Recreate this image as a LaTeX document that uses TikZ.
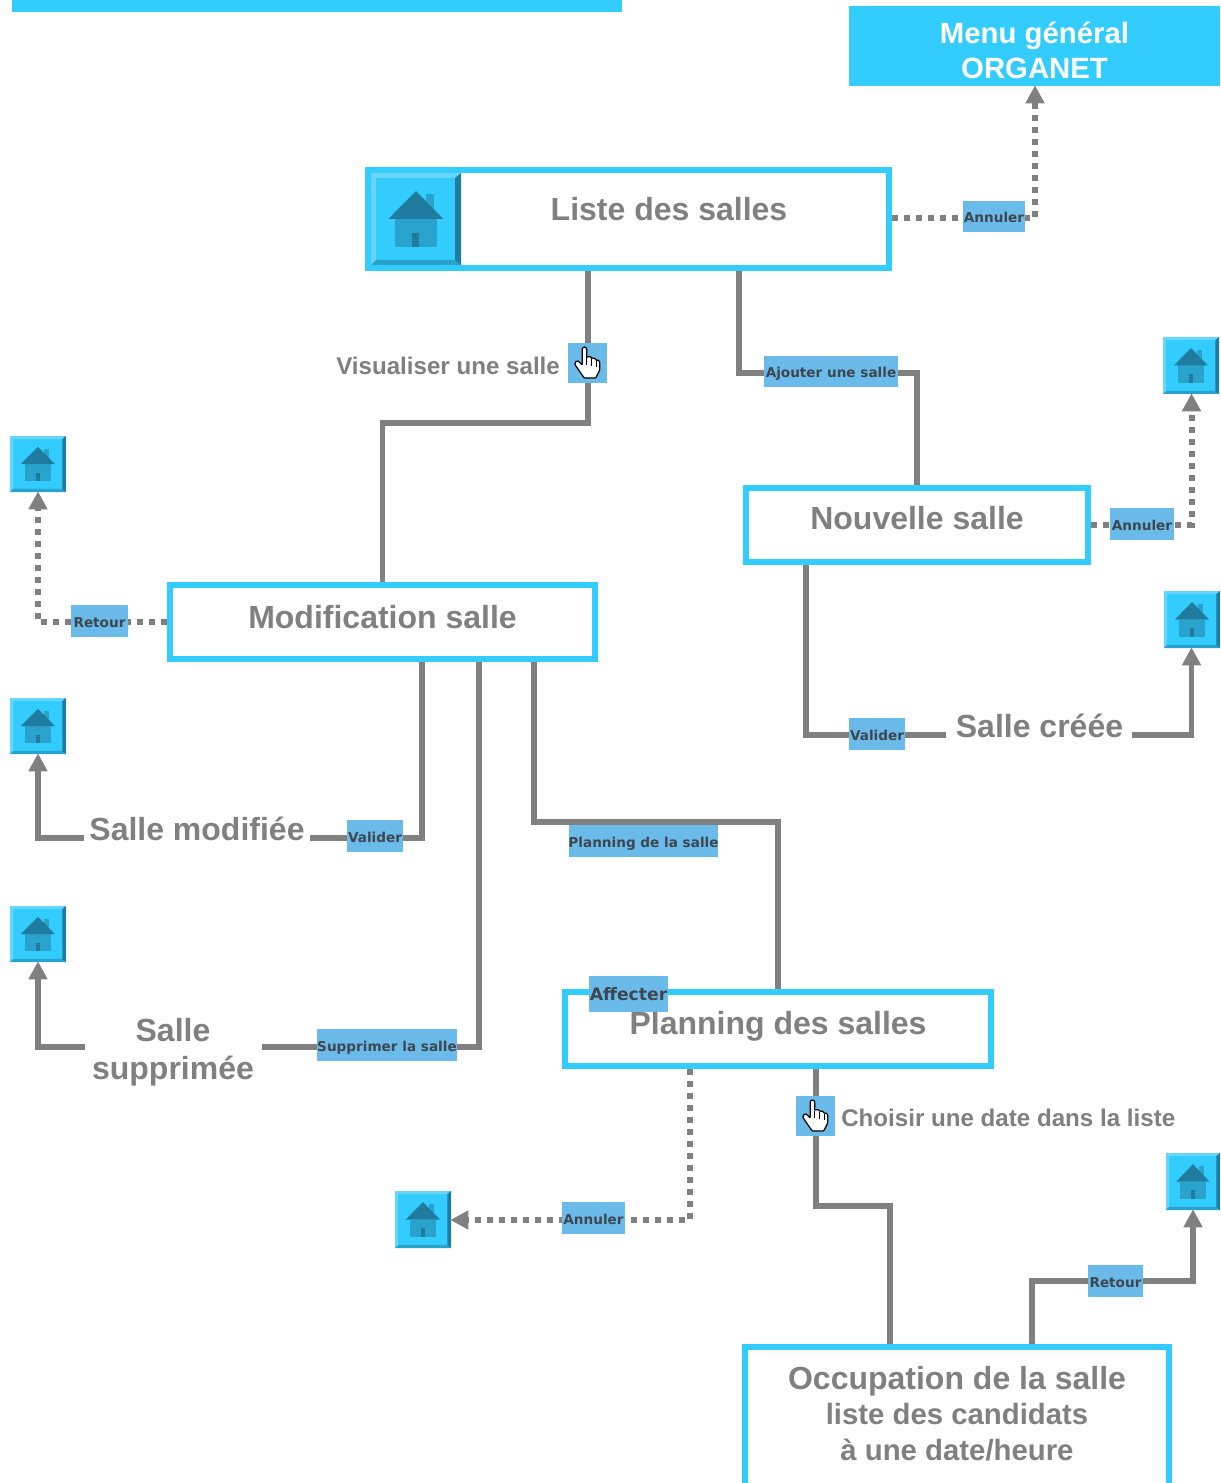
\documentclass[tikz,border=0pt]{standalone}
\usepackage{fontspec}
\setmainfont{Liberation Sans}
\newfontfamily\labelfont{DejaVu Sans}
\usetikzlibrary{arrows.meta,backgrounds}
\definecolor{cyanbox}{HTML}{33CCFF}
\definecolor{linegray}{HTML}{808080}
\definecolor{labelblue}{HTML}{6BBBEA}
\definecolor{labeltext}{HTML}{3E4650}
\definecolor{bevellight}{HTML}{66D6FF}
\definecolor{beveldark}{HTML}{1F7C9F}
\definecolor{bevelmid}{HTML}{2AA3CC}
\tikzset{
  x=0.75pt,y=-0.75pt,
  framebox/.style={draw=cyanbox,line width=4.5pt,fill=white,inner sep=0pt,rectangle},
  title/.style={font=\bfseries\fontsize{24}{28.5}\selectfont,text=linegray,inner sep=0pt,align=center},
  note/.style={font=\bfseries\fontsize{18.1}{22}\selectfont,text=linegray,inner sep=0pt,anchor=base west},
  tagbox/.style={fill=labelblue,inner sep=0pt,rectangle},
  tagtext/.style={font=\labelfont\bfseries\fontsize{10.2}{12}\selectfont,text=labeltext,inner sep=0pt,anchor=base},
  solidlink/.style={draw=linegray,line width=4.1pt,line join=miter},
  dotlink/.style={draw=linegray,line width=4.5pt,dash pattern=on 4.5pt off 4.5pt},
  tipped/.style={-{Triangle[length=13.5pt,width=13.5pt]},shorten >=-0.75pt},
}
% #1 name, #2..#5 outer x1 y1 x2 y2
\newcommand{\pxframe}[5]{\node[framebox,minimum width={(#4-#2-6)*0.75pt},minimum height={(#5-#3-6)*0.75pt}] (#1) at ({(#2+#4)/2},{(#3+#5)/2}) {};}
\newcommand{\pxtag}[6]{\node[tagbox,minimum width={(#4-#2)*0.75pt},minimum height={(#5-#3)*0.75pt}] (#1) at ({(#2+#4)/2},{(#3+#5)/2}) {};
  \node[tagtext] (#1t) at ([yshift=-4.5pt]#1.center) {#6};}
% home icon: #1 name, #2 #3 origin, #4 #5 size
\newcommand{\homeicon}[5]{%
  \node[inner sep=0pt,minimum width={#4*0.75pt},minimum height={#5*0.75pt},rectangle,fill=cyanbox] (#1) at ({#2+#4/2},{#3+#5/2}) {};
  \begin{scope}[shift={(#2,#3)},xscale=#4/90,yscale=#5/92]
    \fill[bevellight] (0,0) -- (90,0) -- (84,5) -- (5,5) -- (5,87) -- (0,92) -- cycle;
    \fill[bevelmid] (0,92) -- (5,87) -- (84,87) -- (90,92) -- cycle;
    \fill[beveldark] (90,0) -- (84,5) -- (84,87) -- (90,92) -- cycle;
    \fill[bevelmid] (55,21) rectangle (63,40);
    \fill[bevelmid] (24,46) rectangle (66,74);
    \fill[beveldark] (17.3,46) -- (45,18) -- (72.3,46) -- cycle;
    \fill[beveldark] (41.3,60) rectangle (48.3,74);
  \end{scope}}
% hand cursor box: #1 name, #2..#5 box
\newcommand{\handbox}[5]{%
  \node[tagbox,minimum width={(#4-#2)*0.75pt},minimum height={(#5-#3)*0.75pt}] (#1) at ({(#2+#4)/2},{(#3+#5)/2}) {};
  \begin{scope}[shift={(#2+0.7,#3)}]
    \draw[fill=white,draw=black,line width=0.9pt,line join=round,rounded corners=0.6pt]
      (13.5,6) .. controls (14,3.5) and (17.5,3.5) .. (18,6) -- (18,14.5)
      .. controls (20,13) and (22.5,13.5) .. (23,15.5)
      .. controls (25,14.5) and (27,15.5) .. (27.3,17.5)
      .. controls (29,16.5) and (31,17.5) .. (31,20) -- (31,27)
      -- (27,35) -- (15.5,35) -- (12,30) -- (6.5,22) .. controls (5.5,19.5) and (8,17) .. (10,18.5)
      -- (13.5,22) -- cycle;
    \draw[black,line width=0.6pt] (18,14.5) -- (18,22) (23,15.5) -- (23,23) (27.3,17.5) -- (27.3,24);
  \end{scope}}
\begin{document}
\begin{tikzpicture}
\clip (0,0) rectangle (1220,1483);
% top elements
\fill[cyanbox] (12,0) rectangle (622,12);
\node[rectangle,fill=cyanbox,minimum width={371*0.75pt},minimum height={80*0.75pt},inner sep=0pt] (menu) at (1034.5,46) {};
\node[font=\bfseries\fontsize{22}{26.3}\selectfont,text=white,align=center,inner sep=0pt] (tmenu) at (1034.5,50.5) {Menu général\\ORGANET};
% frames
\pxframe{liste}{365}{167}{892}{271}
\pxframe{nouvelle}{743}{485}{1091}{565}
\pxframe{modif}{167}{582}{598}{662}
\pxframe{planning}{562}{989}{994}{1069}
\pxframe{occup}{742}{1344}{1172}{1530}
\homeicon{homeliste}{371}{173}{90}{92}
\node[title] (tliste) at (669,209) {Liste des salles};
\node[title] (tnouvelle) at (917,518) {Nouvelle salle};
\node[title] (tmodif) at (382.5,617) {Modification salle};
\node[title] (tplanning) at (778,1026) {Planning des salles};
\node[title,font=\bfseries\fontsize{24}{26.5}\selectfont] (toccup) at (957,1413.5) {Occupation de la salle\\{\fontsize{22}{26.5}\selectfont liste des candidats}\\{\fontsize{22}{26.5}\selectfont à une date/heure}};
% free texts
\node[title] (tcree) at (1039.5,726) {Salle créée};
\node[title] (tmodifiee) at (197,829) {Salle modifiée};
\node[title] (tsupp) at (173,1052.5) {Salle\\supprimée};
\node[note] (tvisu) at (336,374) {Visualiser une salle};
\node[note] (tchoisir) at (841,1126) {Choisir une date dans la liste};
% home icons
\homeicon{h1}{1163}{337}{56}{57}
\homeicon{h2}{1164}{591}{56}{57}
\homeicon{h3}{10}{436}{56}{56}
\homeicon{h4}{10}{698}{56}{56}
\homeicon{h5}{10}{906}{56}{56}
\homeicon{h6}{395}{1191}{56}{57}
\homeicon{h7}{1166}{1153}{54}{57}
% tags
\pxtag{tagA}{963}{201}{1025}{232}{Annuler}
\pxtag{tagB}{764}{356}{898}{387}{Ajouter une salle}
\pxtag{tagC}{1110}{508}{1174}{540}{Annuler}
\pxtag{tagD}{71}{605}{128}{637}{Retour}
\pxtag{tagE}{849}{718}{905}{750}{Valider}
\pxtag{tagF}{347}{820}{403}{852}{Valider}
\pxtag{tagG}{569}{825}{718}{857}{Planning de la salle}
\pxtag{tagH}{589}{976}{668}{1012}{\fontsize{12.9}{14}\selectfont Affecter}
\pxtag{tagI}{317}{1029}{457}{1061}{Supprimer la salle}
\pxtag{tagJ}{562}{1202}{625}{1234}{Annuler}
\pxtag{tagK}{1088}{1265}{1143}{1297}{Retour}
\handbox{handA}{568}{343}{607}{383}
\handbox{handB}{796}{1096}{835}{1136}
% routing points
\coordinate (a1) at (588,423);
\coordinate (a2) at (739,373);
\coordinate (a3) at (1035,218.5);
\coordinate (a4) at (1191.5,524.5);
\coordinate (a5) at (806,735);
\coordinate (a5b) at (946,735);
\coordinate (a6) at (1132,735);
\coordinate (a6b) at (1191.5,735);
\coordinate (a7) at (38,622);
\coordinate (a8) at (422,838);
\coordinate (a8b) at (310,838);
\coordinate (a9) at (84,838);
\coordinate (a9b) at (38,838);
\coordinate (a10) at (479,1047);
\coordinate (a10b) at (262,1047);
\coordinate (a11) at (85,1047);
\coordinate (a11b) at (38,1047);
\coordinate (a12) at (534,822);
\coordinate (a13) at (690,1220);
\coordinate (a14) at (816,1206);
\coordinate (a14b) at (890,1206);
\coordinate (a15) at (1032,1281);
\coordinate (a15b) at (1193,1281);
\begin{scope}[on background layer]
\fill[white] (0,0) rectangle (1220,1483);
\draw[solidlink] (liste.south -| a1) -- (a1) -- (a1 -| modif.north) -- (modif.north);
\draw[solidlink] (liste.south -| a2) -- (a2) -- (a2 -| nouvelle.north) -- (nouvelle.north);
\draw[dotlink,tipped] (liste.east |- a3) -- (a3) -- (menu.south -| a3);
\draw[dotlink,tipped] (nouvelle.east |- a4) -- (a4) -- (a4 |- h1.south);
\draw[solidlink] (nouvelle.south -| a5) -- (a5) -- (a5b);
\draw[solidlink,tipped] (a6) -- (a6b) -- (a6b |- h2.south);
\draw[dotlink,tipped] (modif.west |- a7) -- (a7) -- (a7 |- h3.south);
\draw[solidlink] (modif.south -| a8) -- (a8) -- (a8b);
\draw[solidlink,tipped] (a9) -- (a9b) -- (a9b |- h4.south);
\draw[solidlink] (modif.south -| a10) -- (a10) -- (a10b);
\draw[solidlink,tipped] (a11) -- (a11b) -- (a11b |- h5.south);
\draw[solidlink] (modif.south -| a12) -- (a12) -- (a12 -| planning.north) -- (planning.north);
\draw[dotlink,tipped] (planning.south -| a13) -- (a13) -- (h6.east |- a13);
\draw[solidlink] (planning.south -| a14) -- (a14) -- (a14b) -- (occup.north -| a14b);
\draw[solidlink,tipped] (occup.north -| a15) -- (a15) -- (a15b) -- (a15b |- h7.south);
\end{scope}
\end{tikzpicture}
\end{document}
